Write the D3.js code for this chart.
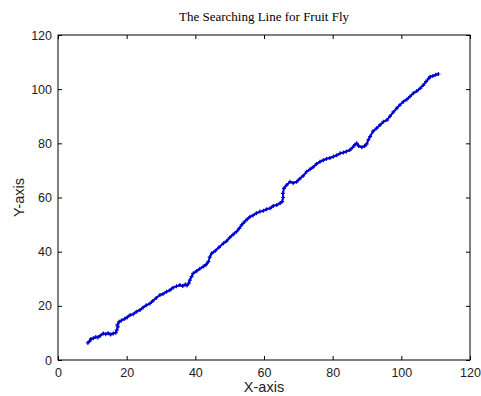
<!DOCTYPE html>
<html><head><meta charset="utf-8">
<script src="https://cdn.jsdelivr.net/npm/d3@7/dist/d3.min.js"></script>
<style>body{margin:0;background:#fff}svg{display:block}</style>
</head><body>
<script>
const xTicks = [0,20,40,60,80,100,120];
const yTicks = [0,20,40,60,80,100,120];
const xs = [8.7,9.2,9.6,10.3,11.0,11.6,12.3,13.2,13.9,14.6,15.3,16.1,16.8,17.1,17.4,17.3,17.8,18.5,19.4,20.2,21.0,21.9,22.8,23.9,24.8,25.7,26.8,27.6,28.6,29.7,30.6,31.6,32.6,33.5,34.5,35.5,36.3,37.1,37.6,38.1,38.4,38.9,39.4,40.4,41.3,42.3,43.1,43.8,44.2,44.8,45.8,46.9,48.2,49.1,50.0,51.0,52.0,52.8,53.5,54.3,55.1,55.9,56.8,57.8,58.8,59.8,60.8,61.8,62.7,63.7,64.7,65.3,65.6,65.5,65.8,66.6,67.6,68.5,69.5,70.4,71.4,72.4,73.4,74.3,75.3,76.3,77.3,78.2,79.2,80.2,81.2,82.2,83.1,84.0,85.0,85.8,86.5,87.0,87.6,88.5,89.3,89.9,90.4,90.9,91.8,92.8,93.8,94.8,95.8,96.7,97.7,98.7,99.6,100.6,101.6,102.5,103.5,104.5,105.5,106.4,107.2,108.0,108.4,109.2,110.0,110.8];
const ys = [6.3,7.0,7.8,8.0,8.5,8.3,9.0,9.8,9.5,9.9,9.4,9.8,10.1,11.0,12.2,13.0,14.1,14.6,15.2,15.8,16.6,16.9,17.8,18.5,19.4,20.2,20.9,21.8,22.9,24.0,24.4,25.2,25.8,26.7,27.2,27.7,27.3,27.9,27.5,28.4,29.5,30.8,32.0,32.9,33.7,34.5,35.2,36.3,38.0,39.4,40.3,41.6,43.1,43.9,45.2,46.3,47.4,48.6,49.9,51.0,52.0,52.9,53.4,54.2,54.8,55.1,55.7,56.0,56.9,57.2,57.9,58.5,60.0,61.5,63.4,64.6,65.8,65.4,65.8,66.9,68.0,69.5,70.4,71.2,72.4,73.2,73.8,74.3,74.6,75.1,75.6,76.3,76.6,77.0,77.5,78.5,79.5,80.0,79.0,78.6,79.0,79.8,81.3,82.5,84.5,85.6,86.8,88.0,88.6,90.0,91.6,93.0,94.2,95.4,96.2,97.3,98.5,99.3,100.3,101.5,102.8,104.0,104.6,104.9,105.3,105.6];
const title = "The Searching Line for Fruit Fly";
const xLabel = "X-axis", yLabel = "Y-axis";

const W = 481, H = 396;
const L = 58, R = 470, T = 35, B = 360;
const svg = d3.select("body").append("svg").attr("width", W).attr("height", H);
const x = d3.scaleLinear().domain([0,120]).range([L,R]);
const y = d3.scaleLinear().domain([0,120]).range([B,T]);
const txt = "#222";

// axes box
svg.append("rect").attr("x",L).attr("y",T).attr("width",R-L).attr("height",B-T)
  .attr("fill","none").attr("stroke","#000").attr("stroke-width",1);

const tl = 4;
const gx = svg.append("g").attr("transform",`translate(0,${B})`)
  .call(d3.axisBottom(x).tickValues(xTicks).tickSize(-tl).tickPadding(8).tickFormat(d3.format("d")));
const gxt = svg.append("g").attr("transform",`translate(0,${T})`)
  .call(d3.axisTop(x).tickValues(xTicks).tickSize(-tl).tickFormat(""));
const gy = svg.append("g").attr("transform",`translate(${L},0)`)
  .call(d3.axisLeft(y).tickValues(yTicks).tickSize(-tl).tickPadding(6).tickFormat(d3.format("d")));
const gyr = svg.append("g").attr("transform",`translate(${R},0)`)
  .call(d3.axisRight(y).tickValues(yTicks).tickSize(-tl).tickFormat(""));
[gx,gxt,gy,gyr].forEach(g=>{
  g.select(".domain").remove();
  g.selectAll("line").attr("stroke","#000");
  g.selectAll("text").attr("font-family","Liberation Sans, Arial, sans-serif").attr("font-size",12.5).attr("fill",txt);
});

// data line
const pts = xs.map((v,i)=>[v,ys[i]]);
svg.append("path").datum(pts)
  .attr("d", d3.line().x(d=>x(d[0])).y(d=>y(d[1])))
  .attr("fill","none").attr("stroke","#0000dd").attr("stroke-width",2);
svg.append("g").selectAll("path").data(pts).join("path")
  .attr("d", d=>`M${x(d[0])-2},${y(d[1])}h4M${x(d[0])},${y(d[1])-2}v4`)
  .attr("stroke","#0000cc").attr("stroke-width",1.2);

svg.append("text").attr("x",(L+R)/2).attr("y",21).attr("text-anchor","middle")
  .attr("font-family","Liberation Serif, Times New Roman, serif").attr("font-size",13).attr("fill","#000").text(title);
svg.append("text").attr("x",(L+R)/2).attr("y",392).attr("text-anchor","middle")
  .attr("font-family","Liberation Sans, Arial, sans-serif").attr("font-size",14.5).attr("fill",txt).text(xLabel);
svg.append("text").attr("transform",`translate(24,${(T+B)/2}) rotate(-90)`).attr("text-anchor","middle")
  .attr("font-family","Liberation Sans, Arial, sans-serif").attr("font-size",14.5).attr("fill",txt).text(yLabel);
</script>
</body></html>
